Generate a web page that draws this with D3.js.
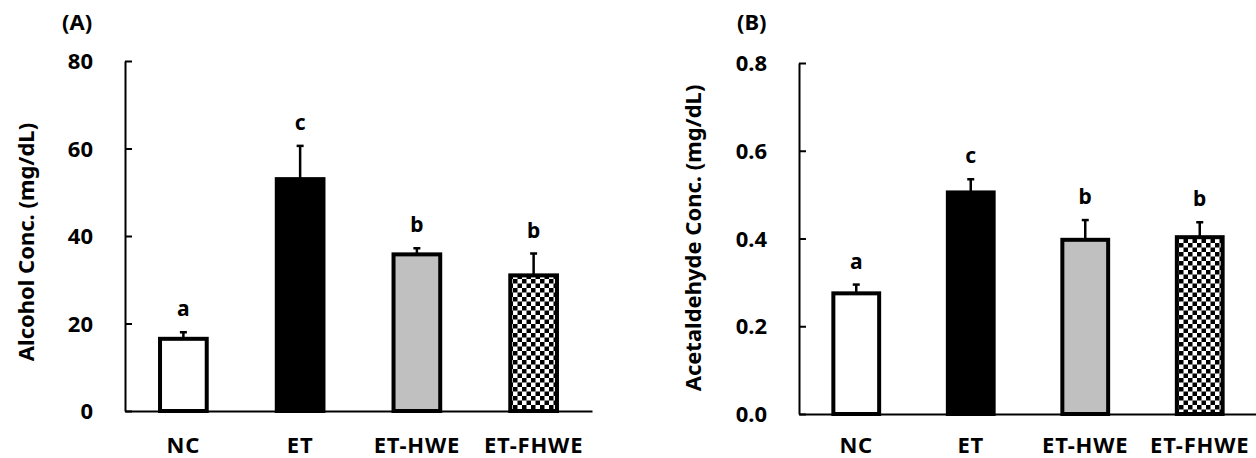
<!DOCTYPE html>
<html>
<head>
<meta charset="utf-8">
<script src="https://cdn.jsdelivr.net/npm/d3@7"></script>
<style>
  html, body { margin: 0; padding: 0; background: #fff; }
  svg { display: block; }
  text { font-family: "Noto Sans", "DejaVu Sans", sans-serif; font-weight: bold; fill: #000; }
</style>
</head>
<body>
<svg id="chart" width="1256" height="458"></svg>
<script>
// ---- data ----
const categories = ["NC", "ET", "ET-HWE", "ET-FHWE"];
const alcoholMeans = [16.5, 53.0, 35.8, 31.0];
const alcoholErrors = [1.5, 7.6, 1.4, 5.0];
const alcoholLetters = ["a", "c", "b", "b"];
const alcoholTicks = [0, 20, 40, 60, 80];
const acetMeans = [0.275, 0.505, 0.397, 0.403];
const acetErrors = [0.02, 0.03, 0.045, 0.034];
const acetLetters = ["a", "c", "b", "b"];
const acetTicks = [0, 0.2, 0.4, 0.6, 0.8];
const fills = ["#ffffff", "#000000", "#c0c0c0", "url(#checker)"];

const svg = d3.select("#chart");

// checker pattern
const defs = svg.append("defs");
const pat = defs.append("pattern").attr("id", "checker")
  .attr("patternUnits", "userSpaceOnUse").attr("width", 9).attr("height", 9);
pat.append("rect").attr("width", 9).attr("height", 9).attr("fill", "#fff");
pat.append("rect").attr("width", 4.5).attr("height", 4.5).attr("fill", "#000");
pat.append("rect").attr("x", 4.5).attr("y", 4.5).attr("width", 4.5).attr("height", 4.5).attr("fill", "#000");

function panel(opts) {
  const g = svg.append("g");
  const x = d3.scaleBand().domain(categories).range(opts.xr)
    .paddingInner(0.6).paddingOuter(0.3);
  const y = d3.scaleLinear().domain(opts.domain).range(opts.yr);
  const data = categories.map((c, i) => ({ c, v: opts.means[i], e: opts.errors[i], l: opts.letters[i], f: fills[i] }));

  // error bars (upward only)
  const eb = g.selectAll(".err").data(data).enter().append("g");
  eb.append("line")
    .attr("x1", d => x(d.c) + x.bandwidth() / 2).attr("x2", d => x(d.c) + x.bandwidth() / 2)
    .attr("y1", d => y(d.v)).attr("y2", d => y(d.v + d.e))
    .attr("stroke", "#000").attr("stroke-width", 2.5);
  eb.append("line")
    .attr("x1", d => x(d.c) + x.bandwidth() / 2 - 3.5).attr("x2", d => x(d.c) + x.bandwidth() / 2 + 3.5)
    .attr("y1", d => y(d.v + d.e)).attr("y2", d => y(d.v + d.e))
    .attr("stroke", "#000").attr("stroke-width", 2.5);

  // bars
  g.selectAll(".bar").data(data).enter().append("rect")
    .attr("x", d => x(d.c)).attr("width", x.bandwidth())
    .attr("y", d => y(d.v)).attr("height", d => y(0) - y(d.v))
    .attr("fill", d => d.f).attr("stroke", "#000").attr("stroke-width", 4);

  // significance letters
  g.selectAll(".sig").data(data).enter().append("text")
    .attr("x", d => x(d.c) + x.bandwidth() / 2)
    .attr("y", d => y(d.v + d.e) - 16)
    .attr("text-anchor", "middle").attr("font-size", 21)
    .text(d => d.l);

  // y axis
  const ya = g.append("g").attr("transform", `translate(${opts.xr[0]},0)`)
    .call(d3.axisLeft(y).tickValues(opts.ticks).tickSizeInner(-7).tickSizeOuter(0)
      .tickPadding(32).tickFormat(opts.fmt));
  ya.select(".domain").attr("stroke-width", 2);
  ya.selectAll(".tick line").attr("stroke-width", 2);
  ya.selectAll(".tick text").attr("font-size", 22).attr("font-family", null).attr("dy", "0.35em");

  // x axis
  const xa = g.append("g").attr("transform", `translate(0,${opts.yr[0]})`)
    .call(d3.axisBottom(x).tickSize(0).tickSizeOuter(0).tickPadding(opts.xpad));
  xa.select(".domain").attr("stroke-width", 2);
  xa.selectAll(".tick text").attr("font-size", 22).attr("font-family", null).attr("letter-spacing", 0.8);

  // y axis title
  g.append("text")
    .attr("transform", `translate(${opts.titleX},${opts.titleY}) rotate(-90)`)
    .attr("text-anchor", "middle").attr("dominant-baseline", "central")
    .attr("font-size", 22).text(opts.title);

  // panel label
  g.append("text").attr("x", opts.labelX).attr("y", 30)
    .attr("font-size", 22).text(opts.label);
}

panel({
  xr: [125, 592], yr: [411, 61], domain: [0, 80], ticks: alcoholTicks,
  fmt: d3.format("d"), means: alcoholMeans, errors: alcoholErrors, letters: alcoholLetters,
  title: "Alcohol Conc. (mg/dL)", titleX: 25, titleY: 242, label: "(A)", labelX: 62, xpad: 26
});
panel({
  xr: [799, 1257], yr: [414, 63], domain: [0, 0.8], ticks: acetTicks,
  fmt: d3.format(".1f"), means: acetMeans, errors: acetErrors, letters: acetLetters,
  title: "Acetaldehyde Conc. (mg/dL)", titleX: 692, titleY: 238, label: "(B)", labelX: 737, xpad: 23
});
</script>
</body>
</html>
